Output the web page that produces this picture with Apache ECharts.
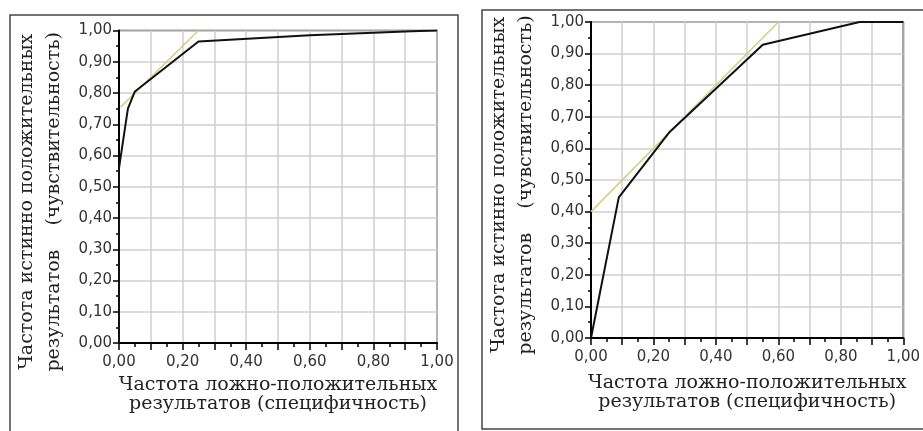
<!DOCTYPE html>
<html>
<head>
<meta charset="utf-8">
<script src="https://cdn.jsdelivr.net/npm/echarts@6/dist/echarts.min.js"></script>
<style>
  html, body { margin: 0; padding: 0; background: #fff; }
  #roc { width: 923px; height: 431px; }
</style>
</head>
<body>
<div id="roc"></div>
<script>
// ROC-кривые: левая и правая панель
var leftFpr = [0, 0, 0.028, 0.05, 0.25, 0.6, 0.92, 1.0];
var leftTpr = [0, 0.56, 0.75, 0.805, 0.965, 0.985, 0.998, 1.0];
var leftTangentX = [0.005, 0.25];
var leftTangentY = [0.755, 1.0];

var rightFpr = [0, 0.089, 0.25, 0.55, 0.86, 1.0];
var rightTpr = [0, 0.445, 0.65, 0.928, 1.0, 1.0];
var rightTangentX = [0, 0.6];
var rightTangentY = [0.4, 1.0];

var yTicks = [0, 0.1, 0.2, 0.3, 0.4, 0.5, 0.6, 0.7, 0.8, 0.9, 1.0];
var xTickLabels = ['0,00', '0,20', '0,40', '0,60', '0,80', '1,00'];

var xName = 'Частота ложно-положительных\nрезультатов (специфичность)';
var yName = 'Частота истинно положительных\nрезультатов    (чувствительность)';

var fmt = function (v) { return v.toFixed(2).replace('.', ','); };
var pairs = function (xs, ys) { return xs.map(function (x, i) { return [x, ys[i]]; }); };

var myChart = echarts.init(document.getElementById('roc'));

function makeX(gridIndex, gap) {
    return {
        type: 'value', gridIndex: gridIndex, min: 0, max: 1, interval: 0.1,
        name: xName, nameLocation: 'middle', nameGap: gap,
        nameTextStyle: { fontFamily: 'DejaVu Serif', fontSize: 19, color: '#222', lineHeight: 19 },
        axisLine: { show: true, onZero: false, lineStyle: { color: '#000', width: 2 } },
        axisTick: { show: true, length: 7, lineStyle: { color: '#000', width: 1.5 } },
        minorTick: { show: true, splitNumber: 2, length: 4, lineStyle: { color: '#000', width: 1.5 } },
        axisLabel: {
            margin: 12, color: '#333', fontFamily: 'DejaVu Sans', fontSize: 15,
            formatter: function (v) {
                var k = Math.round(v * 10);
                return k % 2 === 0 ? xTickLabels[k / 2] : '';
            }
        },
        splitLine: { show: true, lineStyle: { color: '#cfcfcf', width: 1.5 } }
    };
}

function makeY(gridIndex, shift) {
    return {
        type: 'value', gridIndex: gridIndex, min: 0, max: 1, interval: 0.1,
        name: yName, nameLocation: 'middle', nameGap: 51, nameRotate: 90,
        nameTextStyle: {
            fontFamily: 'DejaVu Serif', fontSize: 19, color: '#222', lineHeight: 27,
            padding: [0, shift, 0, 0]
        },
        axisLine: { show: true, onZero: false, lineStyle: { color: '#000', width: 2 } },
        axisTick: { show: true, length: 6, lineStyle: { color: '#000', width: 1.5 } },
        minorTick: { show: true, splitNumber: 2, length: 3, lineStyle: { color: '#000', width: 1.5 } },
        axisLabel: {
            margin: 7, color: '#333', fontFamily: 'DejaVu Sans', fontSize: 15,
            formatter: function (v) { return fmt(yTicks[Math.round(v * 10)]); }
        },
        splitLine: { show: true, lineStyle: { color: '#cfcfcf', width: 1.5 } }
    };
}

var curveStyle = { color: '#111', width: 2 };
var tangentStyle = { color: '#d4cd86', width: 1.5 };

var option = {
    animation: false,
    backgroundColor: '#fff',
    graphic: [
        { type: 'rect', shape: { x: 10, y: 15, width: 448, height: 430 },
          style: { fill: 'none', stroke: '#444', lineWidth: 1.5 }, silent: true },
        { type: 'rect', shape: { x: 482, y: 10, width: 460, height: 419 },
          style: { fill: 'none', stroke: '#444', lineWidth: 1.5 }, silent: true }
    ],
    grid: [
        { left: 119, top: 28, width: 318, height: 315, show: true, borderColor: '#333', borderWidth: 1.5 },
        { left: 591, top: 22, width: 319, height: 316, show: true, borderColor: '#333', borderWidth: 1.5 }
    ],
    xAxis: [makeX(0, 33), makeX(1, 36)],
    yAxis: [makeY(0, 30), makeY(1, 10)],
    series: [
        { type: 'line', xAxisIndex: 0, yAxisIndex: 0, data: pairs(leftTangentX, leftTangentY),
          showSymbol: false, lineStyle: tangentStyle, z: 2 },
        { type: 'line', xAxisIndex: 0, yAxisIndex: 0, data: pairs(leftFpr, leftTpr),
          showSymbol: false, lineStyle: curveStyle, z: 3 },
        { type: 'line', xAxisIndex: 1, yAxisIndex: 1, data: pairs(rightTangentX, rightTangentY),
          showSymbol: false, lineStyle: tangentStyle, z: 2 },
        { type: 'line', xAxisIndex: 1, yAxisIndex: 1, data: pairs(rightFpr, rightTpr),
          showSymbol: false, lineStyle: curveStyle, z: 3 }
    ]
};
myChart.setOption(option);
</script>
</body>
</html>
